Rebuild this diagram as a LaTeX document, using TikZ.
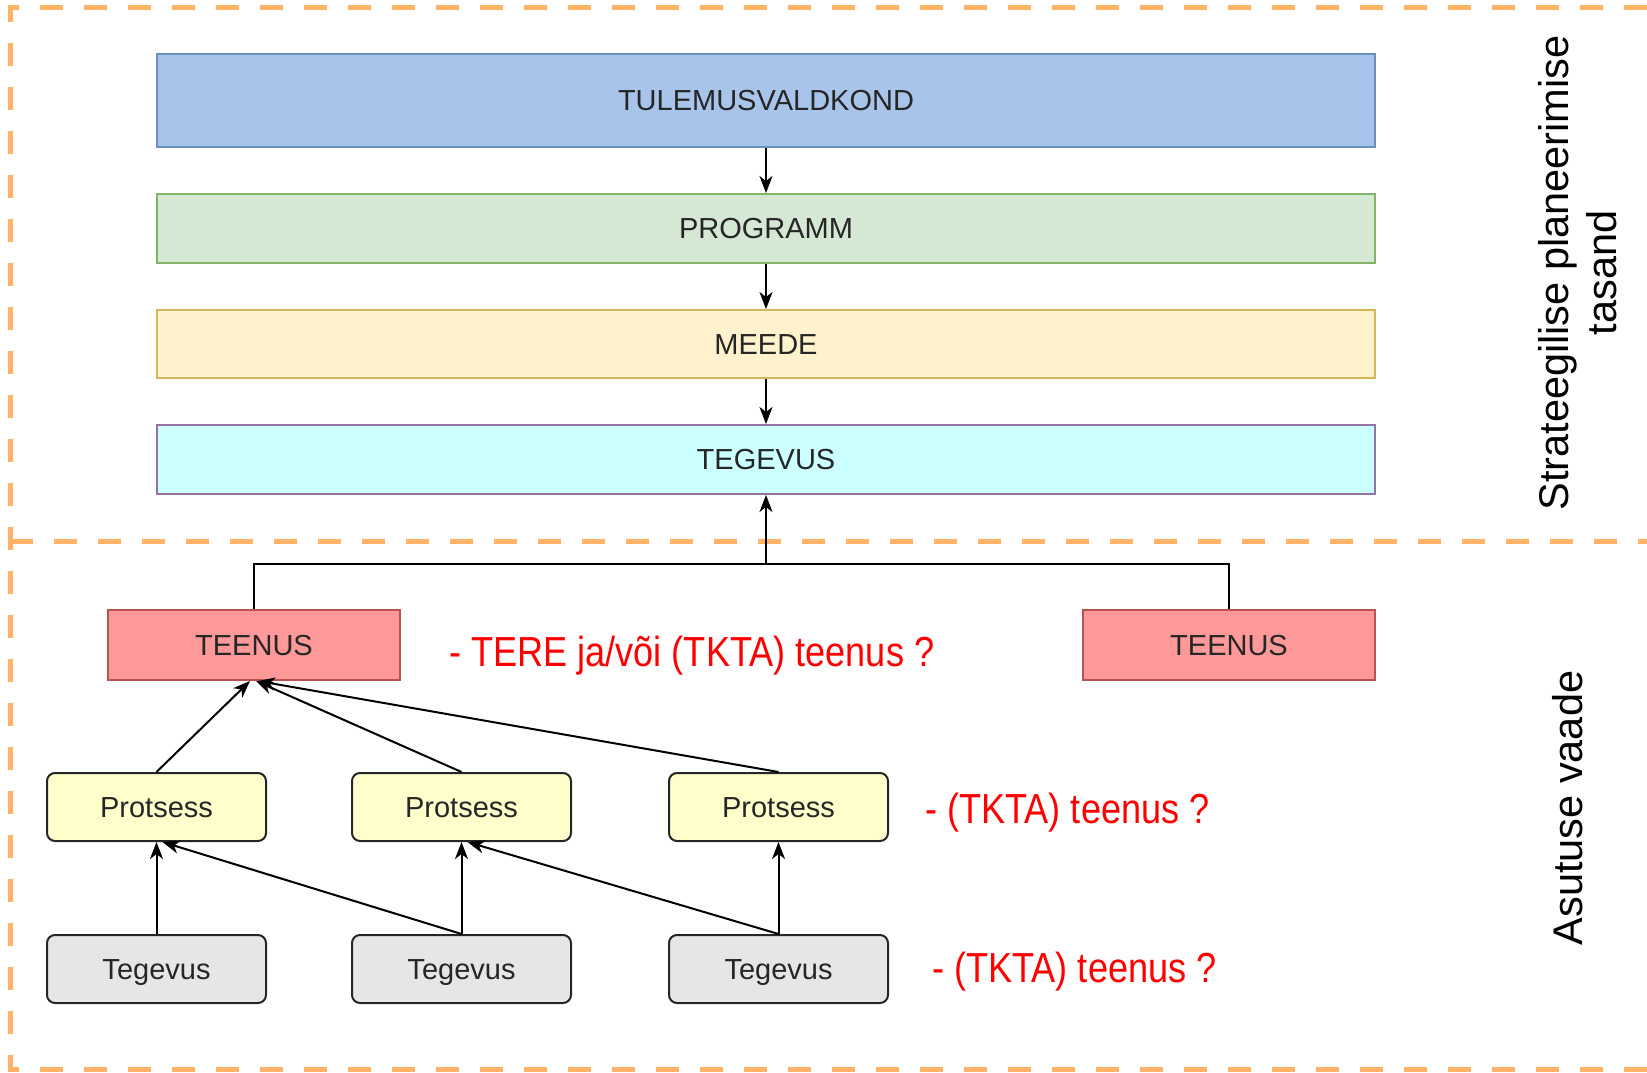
\documentclass[tikz,border=0pt]{standalone}
\usepackage{fontspec}
\setmainfont{Liberation Sans}
\newfontfamily\redfont[FakeStretch=0.86]{Liberation Sans}
\usetikzlibrary{arrows.meta,calc}
\definecolor{dashor}{HTML}{FFB366}
\definecolor{tulfill}{HTML}{A9C4EB}
\definecolor{tuldraw}{HTML}{6C8EBF}
\definecolor{prfill}{HTML}{D5E8D4}
\definecolor{prdraw}{HTML}{82B366}
\definecolor{mefill}{HTML}{FFF2CC}
\definecolor{medraw}{HTML}{D6B656}
\definecolor{tgfill}{HTML}{CCFFFF}
\definecolor{tgdraw}{HTML}{9673A6}
\definecolor{tefill}{HTML}{FF9999}
\definecolor{tedraw}{HTML}{B85450}
\definecolor{psfill}{HTML}{FFFFCC}
\definecolor{gyfill}{HTML}{E6E6E6}
\definecolor{boxtext}{HTML}{262626}
\definecolor{redtext}{HTML}{FF0000}
\begin{document}
\begin{tikzpicture}[x=1pt,y=-1pt,
  bx/.style={draw, line width=2pt, inner sep=0pt, text=boxtext,
    text height=20.8pt, text depth=0pt,
    font=\fontsize{29}{34}\selectfont},
  wide/.style={bx, minimum width=1218pt},
  teen/.style={bx, minimum width=292pt, minimum height=70pt, fill=tefill, draw=tedraw},
  small/.style={bx, rounded corners=8pt, minimum width=219pt, minimum height=68pt, draw=black!85},
  arr/.style={line width=2pt, -{Stealth[length=17pt,width=13pt,inset=5pt]}},
  conn/.style={line width=2pt},
  red/.style={text=redtext, font=\redfont\fontsize{42}{48}\selectfont, anchor=west, inner sep=0pt},
  side/.style={rotate=90, align=center, text=black, font=\fontsize{41.5}{48}\selectfont},
  border/.style={draw=dashor, line width=5pt, dash pattern=on 23pt off 21pt}
]
\useasboundingbox (0,0) rectangle (1647,1073);
% dashed frames
\draw[border] (1647,8) -- (10,8) -- (10,1069) -- (1647,1069);
\draw[border] (10,541) -- (1647,541);

% strategic level
\node[wide, minimum height=93pt, fill=tulfill, draw=tuldraw] (tul) at (766,100.5) {TULEMUSVALDKOND};
\node[wide, minimum height=69pt, fill=prfill, draw=prdraw] (prog) at (766,228.5) {PROGRAMM};
\node[wide, minimum height=68pt, fill=mefill, draw=medraw] (meede) at (766,344) {MEEDE};
\node[wide, minimum height=69pt, fill=tgfill, draw=tgdraw] (teg) at (766,459.5) {TEGEVUS};
\draw[arr] (tul) -- (prog);
\draw[arr] (prog) -- (meede);
\draw[arr] (meede) -- (teg);

% services
\node[teen] (t1) at (254,645) {TEENUS};
\node[teen] (t2) at (1229,645) {TEENUS};
\coordinate (jn) at (766,564);
\draw[arr] (t1.north) |- (jn) -- (teg.south);
\draw[conn] (t2.north) |- (jn);

% processes
\node[small, fill=psfill] (p1) at (156.5,807) {Protsess};
\node[small, fill=psfill] (p2) at (461.5,807) {Protsess};
\node[small, fill=psfill] (p3) at (778.5,807) {Protsess};
\draw[arr] (p1.north) -- ($(t1.south)+(-4,0)$);
\draw[arr] (p2.north) -- ($(t1.south)+(2,0)$);
\draw[arr] (p3.north) -- ($(t1.south)+(4,0)$);

% activities
\node[small, fill=gyfill] (a1) at (156.5,969) {Tegevus};
\node[small, fill=gyfill] (a2) at (461.5,969) {Tegevus};
\node[small, fill=gyfill] (a3) at (778.5,969) {Tegevus};
\draw[arr] (a1.north) -- (p1.south);
\draw[arr] (a2.north) -- ($(p1.south)+(6,0)$);
\draw[arr] (a2.north) -- (p2.south);
\draw[arr] (a3.north) -- ($(p2.south)+(6,0)$);
\draw[arr] (a3.north) -- (p3.south);

% red annotations
\node[red] (r1) at (449,656) {- TERE ja/või (TKTA) teenus ?};
\node[red] (r2) at (925,813) {- (TKTA) teenus ?};
\node[red] (r3) at (932,972) {- (TKTA) teenus ?};

% side labels
\node[side] (s1) at (1578,273) {Strateegilise planeerimise\\tasand};
\node[side] (s2) at (1568,808) {Asutuse vaade};
\end{tikzpicture}
\end{document}
